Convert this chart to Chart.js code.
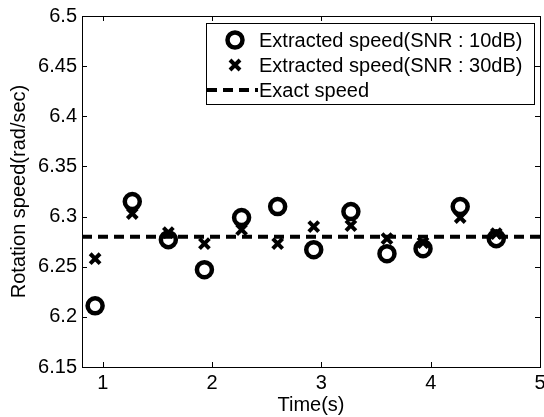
<!DOCTYPE html>
<html lang="en">
<head>
<meta charset="utf-8">
<style>
  html, body { margin: 0; padding: 0; background: #fff; overflow: hidden; }
  #wrap { width: 544px; height: 417px; }
  canvas { display: block; }
</style>
</head>
<body>
<div id="wrap"><canvas id="myChart" width="544" height="417"></canvas></div>
<script src="https://cdn.jsdelivr.net/npm/chart.js"></script>
<script>
// data
const times = [0.93, 1.27, 1.6, 1.93, 2.27, 2.6, 2.93, 3.27, 3.6, 3.93, 4.27, 4.6];
const speed10dB = [6.211, 6.315, 6.277, 6.247, 6.299, 6.310, 6.267, 6.305, 6.263, 6.268, 6.310, 6.278];
const speed30dB = [6.258, 6.303, 6.284, 6.273, 6.287, 6.273, 6.290, 6.291, 6.278, 6.274, 6.299, 6.283];
const exactSpeed = 6.28;
const xTicks = [1, 2, 3, 4, 5];
const yTicks = [6.15, 6.2, 6.25, 6.3, 6.35, 6.4, 6.45, 6.5];
const xMin = 0.81, xMax = 5, yMin = 6.15, yMax = 6.5;
const labels = ['Extracted speed(SNR : 10dB)', 'Extracted speed(SNR : 30dB)', 'Exact speed'];

const FONT = 'Liberation Sans, Arial, sans-serif';
const FSIZE = 20;

// MATLAB style box with inward ticks, x tick labels and legend inside the axes
const boxPlugin = {
  id: 'box',
  afterDraw(chart) {
    const ctx = chart.ctx, a = chart.chartArea;
    const xs = chart.scales.x, ys = chart.scales.y;
    ctx.save();
    ctx.strokeStyle = '#000';
    ctx.lineWidth = 1;
    ctx.strokeRect(a.left + 0.5, a.top + 0.5, a.right - a.left, a.bottom - a.top);
    ctx.beginPath();
    xTicks.forEach(v => {
      const px = Math.round(xs.getPixelForValue(v)) + 0.5;
      ctx.moveTo(px, a.bottom); ctx.lineTo(px, a.bottom - 5);
      ctx.moveTo(px, a.top); ctx.lineTo(px, a.top + 5);
    });
    yTicks.forEach(v => {
      const py = Math.round(ys.getPixelForValue(v)) + 0.5;
      ctx.moveTo(a.left, py); ctx.lineTo(a.left + 5, py);
      ctx.moveTo(a.right, py); ctx.lineTo(a.right - 5, py);
    });
    ctx.stroke();

    // x tick labels
    ctx.fillStyle = '#000';
    ctx.font = FSIZE + 'px ' + FONT;
    ctx.textAlign = 'center';
    ctx.textBaseline = 'middle';
    xTicks.forEach(v => ctx.fillText(String(v), xs.getPixelForValue(v), a.bottom + 16));

    // legend
    const lx = 206, ly = 23, lw = 328, lh = 81;
    ctx.fillStyle = '#fff';
    ctx.fillRect(lx, ly, lw, lh);
    ctx.strokeRect(lx + 0.5, ly + 0.5, lw, lh);
    ctx.fillStyle = '#000';
    ctx.textAlign = 'left';
    const rows = [40, 65, 90];
    rows.forEach((ry, i) => ctx.fillText(labels[i], 259, ry + 1));
    ctx.lineWidth = 4.5;
    ctx.beginPath(); ctx.arc(235, rows[0], 7.5, 0, Math.PI * 2); ctx.stroke();
    ctx.lineWidth = 4;
    ctx.beginPath();
    ctx.moveTo(230, rows[1] - 5); ctx.lineTo(240, rows[1] + 5);
    ctx.moveTo(240, rows[1] - 5); ctx.lineTo(230, rows[1] + 5);
    ctx.stroke();
    ctx.setLineDash([10, 6]);
    ctx.beginPath(); ctx.moveTo(207, rows[2]); ctx.lineTo(258, rows[2]); ctx.stroke();
    ctx.restore();
  }
};

const data = {
  datasets: [
    {
      label: labels[0],
      data: times.map((t, i) => ({ x: t, y: speed10dB[i] })),
      showLine: false,
      pointStyle: 'circle',
      pointRadius: 7.5,
      pointBorderWidth: 4.5,
      borderColor: '#000',
      backgroundColor: 'rgba(0,0,0,0)',
      order: 3
    },
    {
      label: labels[1],
      data: times.map((t, i) => ({ x: t, y: speed30dB[i] })),
      showLine: false,
      pointStyle: 'crossRot',
      pointRadius: 7,
      pointBorderWidth: 4,
      borderColor: '#000',
      backgroundColor: '#000',
      order: 2
    },
    {
      label: labels[2],
      data: [{ x: xMin, y: exactSpeed }, { x: xMax, y: exactSpeed }],
      showLine: true,
      borderColor: '#000',
      borderWidth: 4,
      borderDash: [10, 6],
      pointRadius: 0,
      order: 1
    }
  ]
};

const config = {
  type: 'scatter',
  data: data,
  options: {
    responsive: false,
    animation: false,
    layout: { autoPadding: false, padding: { left: 0, right: 4, top: 16, bottom: 0 } },
    plugins: { legend: { display: false }, tooltip: { enabled: false } },
    scales: {
      x: {
        type: 'linear', min: xMin, max: xMax,
        afterBuildTicks: s => { s.ticks = xTicks.map(v => ({ value: v })); },
        afterFit: s => { s.height = 50; },
        grid: { display: false, drawTicks: false },
        border: { display: false },
        ticks: { display: false },
        title: { display: true, text: 'Time(s)', color: '#000', font: { size: FSIZE, family: FONT }, padding: { top: 0, bottom: 0 } }
      },
      y: {
        type: 'linear', min: yMin, max: yMax,
        afterBuildTicks: s => { s.ticks = yTicks.map(v => ({ value: v })); },
        afterFit: s => { s.width = 82; s.paddingTop = 0; s.paddingBottom = 0; },
        grid: { display: false, drawTicks: false },
        border: { display: false },
        ticks: { color: '#000', font: { size: FSIZE, family: FONT }, padding: 5,
                 callback: v => String(+v.toFixed(2)) },
        title: { display: true, text: 'Rotation speed(rad/sec)', color: '#000', font: { size: FSIZE, family: FONT }, padding: { top: 7, bottom: 0 } }
      }
    }
  },
  plugins: [boxPlugin]
};

const myChart = new Chart(document.getElementById('myChart'), config);
</script>
</body>
</html>
